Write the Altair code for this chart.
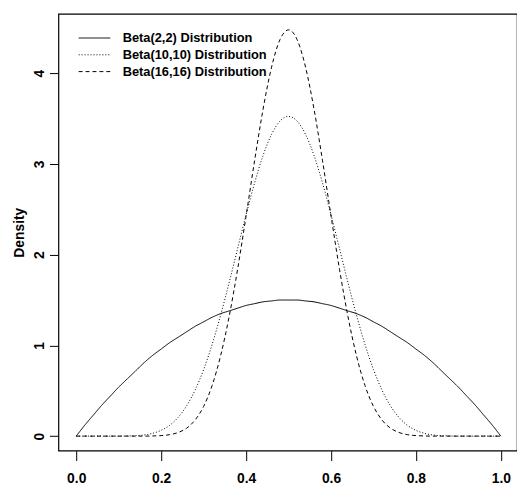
import altair as alt
import pandas as pd

x_vals = [0.00, 0.02, 0.04, 0.06, 0.08, 0.10, 0.12, 0.14, 0.16, 0.18,
          0.20, 0.22, 0.24, 0.26, 0.28, 0.30, 0.32, 0.34, 0.36, 0.38,
          0.40, 0.42, 0.44, 0.46, 0.48, 0.50, 0.52, 0.54, 0.56, 0.58,
          0.60, 0.62, 0.64, 0.66, 0.68, 0.70, 0.72, 0.74, 0.76, 0.78,
          0.80, 0.82, 0.84, 0.86, 0.88, 0.90, 0.92, 0.94, 0.96, 0.98, 1.00]

beta_2_2 = [0, 0.12, 0.23, 0.34, 0.44, 0.54, 0.63, 0.72, 0.81, 0.89,
            0.96, 1.03, 1.09, 1.15, 1.21, 1.26, 1.31, 1.35, 1.38, 1.41,
            1.44, 1.46, 1.48, 1.49, 1.50, 1.50, 1.50, 1.49, 1.48, 1.46,
            1.44, 1.41, 1.38, 1.35, 1.31, 1.26, 1.21, 1.15, 1.09, 1.03,
            0.96, 0.89, 0.81, 0.72, 0.63, 0.54, 0.44, 0.34, 0.23, 0.12, 0]

beta_10_10 = [0, 0, 0, 0, 0, 0, 0.002, 0.005, 0.013, 0.031,
              0.064, 0.119, 0.207, 0.334, 0.508, 0.734, 1.011, 1.333, 1.690, 2.066,
              2.440, 2.790, 3.093, 3.326, 3.473, 3.524, 3.473, 3.326, 3.093, 2.790,
              2.440, 2.066, 1.690, 1.333, 1.011, 0.734, 0.508, 0.334, 0.207, 0.119,
              0.064, 0.031, 0.013, 0.005, 0.002, 0, 0, 0, 0, 0, 0]

beta_16_16 = [0, 0, 0, 0, 0, 0, 0, 0, 0, 0.002,
              0.006, 0.016, 0.040, 0.088, 0.178, 0.328, 0.558, 0.886, 1.316, 1.839,
              2.428, 3.035, 3.603, 4.067, 4.372, 4.478, 4.372, 4.067, 3.603, 3.035,
              2.428, 1.839, 1.316, 0.886, 0.558, 0.328, 0.178, 0.088, 0.040, 0.016,
              0.006, 0.002, 0, 0, 0, 0, 0, 0, 0, 0, 0]

series_names = ["Beta(2,2) Distribution", "Beta(10,10) Distribution", "Beta(16,16) Distribution"]
series_values = [beta_2_2, beta_10_10, beta_16_16]
x_ticks = [0.0, 0.2, 0.4, 0.6, 0.8, 1.0]
y_ticks = [0, 1, 2, 3, 4]

rows = []
for name, vals in zip(series_names, series_values):
    for xv, yv in zip(x_vals, vals):
        rows.append({"x": xv, "density": yv, "series": name})
df = pd.DataFrame(rows)

FONT = "Liberation Sans"

chart = alt.Chart(df).mark_line(interpolate="monotone", strokeWidth=1, color="black").encode(
    x=alt.X("x:Q",
            scale=alt.Scale(domain=[-0.042, 1.038], nice=False, zero=False),
            axis=alt.Axis(values=x_ticks, format=".1f", title=None, domain=False, grid=False,
                          tickColor="black", tickSize=10, tickWidth=1,
                          labelFont=FONT, labelFontSize=14, labelFontWeight="bold",
                          labelColor="black", labelPadding=11)),
    y=alt.Y("density:Q",
            scale=alt.Scale(domain=[-0.16, 4.655], nice=False, zero=False),
            axis=alt.Axis(values=y_ticks, format="d", title="Density", domain=False, grid=False,
                          tickColor="black", tickSize=9, tickWidth=1,
                          labelFont=FONT, labelFontSize=14, labelFontWeight="bold",
                          labelColor="black", labelAngle=-90, labelAlign="center",
                          labelBaseline="bottom", labelPadding=3,
                          titleFont=FONT, titleFontSize=14, titleFontWeight="bold",
                          titleColor="black", titlePadding=6)),
    strokeDash=alt.StrokeDash("series:N",
                              scale=alt.Scale(domain=series_names,
                                              range=[[1, 0], [1, 2], [4, 3]]),
                              legend=alt.Legend(orient="none", legendX=28, legendY=16,
                                                title=None, symbolType="M-2,0H2",
                                                symbolSize=256, symbolStrokeWidth=1,
                                                symbolStrokeColor="black",
                                                labelFont=FONT, labelFontSize=13,
                                                labelFontWeight="bold", labelColor="black",
                                                labelOffset=20, rowPadding=1, padding=0)),
).properties(
    width=464,
    height=442,
    autosize=alt.AutoSizeParams(type="none"),
    padding={"left": 51, "top": 3, "right": 0, "bottom": 40},
).configure(
    background="white"
).configure_view(
    stroke="black", strokeWidth=1.2, fill="white"
)

chart.save("out.html", embed_options={"renderer": "svg", "actions": False})
